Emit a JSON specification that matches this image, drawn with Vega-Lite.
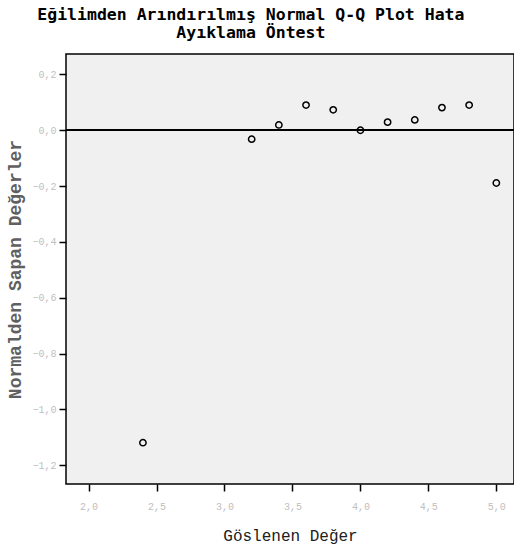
{
  "$schema": "https://vega.github.io/schema/vega-lite/v6.json",
  "width": 448,
  "height": 430,
  "autosize": {"type": "none"},
  "padding": {"left": 66, "top": 54, "right": 0, "bottom": 72},
  "background": "white",
  "title": {
    "text": ["Eğilimden Arındırılmış Normal Q-Q Plot Hata", "Ayıklama Öntest"],
    "font": "DejaVu Sans Mono",
    "fontWeight": "bold",
    "fontSize": 16.5,
    "color": "#000000",
    "anchor": "middle",
    "frame": "bounds",
    "dx": -10,
    "offset": 13,
    "lineHeight": 18
  },
  "config": {
    "view": {"fill": "#f0f0f0", "stroke": "#000000", "strokeWidth": 1.5},
    "axis": {
      "grid": false,
      "domain": false,
      "ticks": true,
      "tickColor": "#000000",
      "tickSize": 7,
      "tickWidth": 1.5,
      "labelColor": "#c0c0c0",
      "labelFont": "Liberation Mono",
      "labelFontSize": 10,
      "titleFont": "Liberation Mono",
      "titleFontWeight": "normal",
      "titleFontSize": 16
    }
  },
  "data": {
    "values": [
      {"observed": 2.4, "deviation": -1.119},
      {"observed": 3.2, "deviation": -0.032},
      {"observed": 3.4, "deviation": 0.019},
      {"observed": 3.6, "deviation": 0.09},
      {"observed": 3.8, "deviation": 0.073},
      {"observed": 4.0, "deviation": 0.0},
      {"observed": 4.2, "deviation": 0.029},
      {"observed": 4.4, "deviation": 0.037},
      {"observed": 4.6, "deviation": 0.081},
      {"observed": 4.8, "deviation": 0.09},
      {"observed": 5.0, "deviation": -0.189}
    ]
  },
  "layer": [
    {
      "mark": {"type": "rule", "color": "#000000", "strokeWidth": 1.5},
      "encoding": {"y": {"datum": 0, "type": "quantitative"}}
    },
    {
      "mark": {"type": "point", "shape": "circle", "filled": false, "color": "#000000", "strokeWidth": 1.5, "size": 40, "opacity": 1},
      "encoding": {
        "x": {
          "field": "observed",
          "type": "quantitative",
          "scale": {"domain": [1.834, 5.13], "nice": false, "zero": false},
          "axis": {
            "title": "Göslenen Değer",
            "values": [2.0, 2.5, 3.0, 3.5, 4.0, 4.5, 5.0],
            "labelExpr": "replace(format(datum.value, '.1f'), '.', ',')",
            "labelPadding": 10,
            "titlePadding": 16,
            "titleColor": "#202020"
          }
        },
        "y": {
          "field": "deviation",
          "type": "quantitative",
          "scale": {"domain": [-1.267, 0.273], "nice": false, "zero": false},
          "axis": {
            "title": "Normalden Sapan Değerler",
            "values": [-1.2, -1.0, -0.8, -0.6, -0.4, -0.2, 0.0, 0.2],
            "labelExpr": "replace(format(datum.value, '.1f'), '.', ',')",
            "labelPadding": 3,
            "titlePadding": 7,
            "titleColor": "#606060",
            "titleFontWeight": "bold",
            "titleFontSize": 18
          }
        }
      }
    }
  ]
}
